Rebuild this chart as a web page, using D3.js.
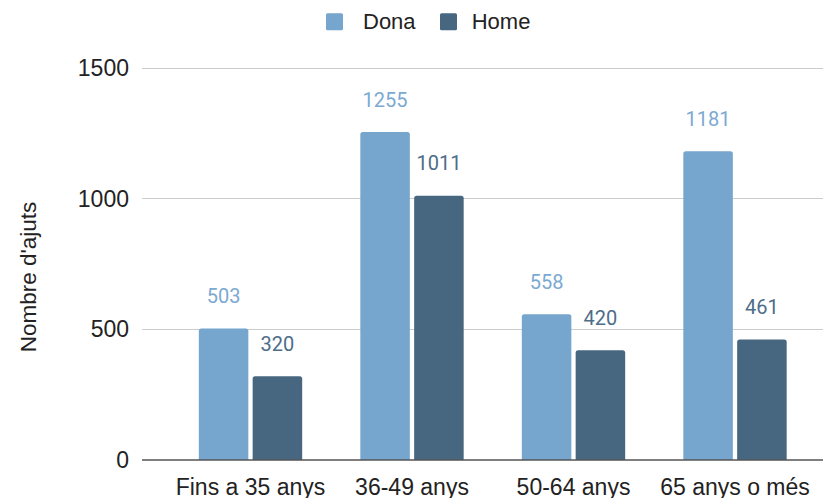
<!DOCTYPE html>
<html>
<head>
<meta charset="utf-8">
<script src="https://cdn.jsdelivr.net/npm/d3@7"></script>
<style>
  html, body { margin: 0; padding: 0; background: #fff; }
  svg { display: block; }
</style>
</head>
<body>
<svg id="chart" width="823" height="498"></svg>
<script>
const categories = ["Fins a 35 anys", "36-49 anys", "50-64 anys", "65 anys o més"];
const seriesNames = ["Dona", "Home"];
const dona = [503, 1255, 558, 1181];
const home = [320, 1011, 420, 461];
const yTicks = [0, 500, 1000, 1500];
const yTitle = "Nombre d'ajuts";

const colors = { Dona: "#76a5cd", Home: "#46677f" };
const labelColors = { Dona: "#7ca9d2", Home: "#4d6d88" };

const svg = d3.select("#chart");
const W = 823, H = 498;
const plotLeft = 142, plotRight = 823, plotTop = 68, plotBottom = 460;

const y = d3.scaleLinear().domain([0, 1500]).range([plotBottom, plotTop]);
const x0 = d3.scaleBand().domain(categories).range([169.75, 815.75]).paddingInner(0.36).paddingOuter(0.18);
const x1 = d3.scaleBand().domain(seriesNames).range([0, x0.bandwidth()]).paddingInner(0.08);

const axisFont = "'Liberation Sans', Arial, Helvetica, sans-serif";

// gridlines
svg.append("g").selectAll("line").data(yTicks.filter(d => d !== 0)).join("line")
  .attr("x1", plotLeft).attr("x2", plotRight)
  .attr("y1", d => y(d)).attr("y2", d => y(d))
  .attr("stroke", "#cccccc").attr("stroke-width", 1).attr("shape-rendering", "crispEdges");

// y tick labels
svg.append("g").selectAll("text").data(yTicks).join("text")
  .attr("x", 129).attr("y", d => y(d)).attr("dy", "0.35em")
  .attr("text-anchor", "end")
  .attr("font-family", axisFont).attr("font-size", 23).attr("fill", "#222")
  .text(d => d);

// bars
const data = categories.map((c, i) => ({ cat: c, values: [
  { key: "Dona", value: dona[i] }, { key: "Home", value: home[i] }
]}));

function roundTopRect(xp, yp, w, h, r) {
  r = Math.min(r, h, w / 2);
  return `M${xp},${yp + h}V${yp + r}Q${xp},${yp} ${xp + r},${yp}H${xp + w - r}Q${xp + w},${yp} ${xp + w},${yp + r}V${yp + h}Z`;
}

const groups = svg.append("g").selectAll("g").data(data).join("g")
  .attr("transform", d => `translate(${x0(d.cat)},0)`);

groups.selectAll("path").data(d => d.values).join("path")
  .attr("d", d => roundTopRect(x1(d.key), y(d.value), x1.bandwidth(), y(0) - y(d.value), 2.5))
  .attr("fill", d => colors[d.key]);

groups.selectAll("text").data(d => d.values).join("text")
  .attr("x", d => x1(d.key) + x1.bandwidth() / 2)
  .attr("y", d => y(d.value) - 25.5)
  .attr("text-anchor", "middle")
  .attr("font-family", "Roboto, sans-serif").attr("font-size", 20)
  .attr("fill", d => labelColors[d.key])
  .text(d => d.value);

// baseline
svg.append("line")
  .attr("x1", plotLeft).attr("x2", plotRight)
  .attr("y1", y(0)).attr("y2", y(0))
  .attr("stroke", "#555").attr("stroke-width", 1.5);

// x labels
svg.append("g").selectAll("text").data(categories).join("text")
  .attr("x", d => x0(d) + x0.bandwidth() / 2)
  .attr("y", 495)
  .attr("text-anchor", "middle")
  .attr("font-family", axisFont).attr("font-size", 23).attr("fill", "#222")
  .text(d => d);

// y title
svg.append("text")
  .attr("transform", "translate(36,277) rotate(-90)")
  .attr("text-anchor", "middle")
  .attr("font-family", axisFont).attr("font-size", 22.5).attr("fill", "#222")
  .text(yTitle);

// legend
const legendItems = [
  { key: "Dona", sx: 326, tx: 363 },
  { key: "Home", sx: 440, tx: 471.7 }
];
const lg = svg.append("g");
lg.selectAll("rect").data(legendItems).join("rect")
  .attr("x", d => d.sx).attr("y", 13.3).attr("width", 17).attr("height", 17).attr("rx", 1.5)
  .attr("fill", d => colors[d.key]);
lg.selectAll("text").data(legendItems).join("text")
  .attr("x", d => d.tx).attr("y", 29.3)
  .attr("font-family", axisFont).attr("font-size", 22).attr("fill", "#222")
  .text(d => d.key);
</script>
</body>
</html>
